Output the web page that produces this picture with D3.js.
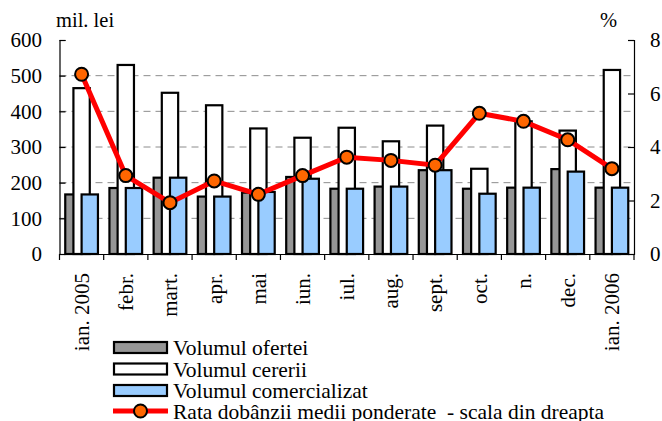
<!DOCTYPE html>
<html>
<head>
<meta charset="utf-8">
<title>Volumul ofertei si cererii</title>
<script src="https://d3js.org/d3.v7.min.js"></script>
<style>
  body { margin: 0; background: #fff; }
  svg text { font-family: 'Liberation Serif', 'Tinos', 'DejaVu Serif', 'Times New Roman', serif; fill: #000; }
</style>
</head>
<body>
<svg id="chart" width="662" height="421"></svg>
<script>
// luni
var months = ["ian. 2005", "febr.", "mart.", "apr.", "mai", "iun.", "iul.",
              "aug.", "sept.", "oct.", "n.", "dec.", "ian. 2006"];
// mil. lei
var oferta = [167, 185, 214, 161, 172, 216, 183, 189, 235, 183, 186, 238, 186];
var cerere = [465, 530, 452, 417, 352, 326, 354, 316, 360, 239, 372, 346, 516];
var comercializat = [167, 185, 214, 161, 174, 211, 183, 189, 235, 169, 186, 231, 186];
// %
var rata = [6.72, 2.93, 1.92, 2.73, 2.23, 2.93, 3.62, 3.50, 3.32, 5.26, 4.96, 4.27, 3.19];

var leftTicks = [0, 100, 200, 300, 400, 500, 600];
var rightTicks = [0, 2, 4, 6, 8];

var svg = d3.select("#chart");
var x0 = 59.5, x1 = 634, yTop = 40, yBot = 254;
var fs = "20.5px";

var x = d3.scaleBand().domain(months).range([x0, x1]).padding(0);
var yL = d3.scaleLinear().domain([0, 600]).range([yBot, yTop]);
var yR = d3.scaleLinear().domain([0, 8]).range([yBot, yTop]);

// grid
svg.append("g").selectAll("line")
    .data(leftTicks.filter(function(d) { return d > 0 && d < 600; }))
    .enter().append("line")
    .attr("x1", x0).attr("x2", x1)
    .attr("y1", function(d) { return yL(d); })
    .attr("y2", function(d) { return yL(d); })
    .attr("stroke", "#8c8c8c").attr("stroke-width", 1)
    .attr("stroke-dasharray", "7,5");

// bars
var w = x.bandwidth() * 0.37;
var series = [
  { values: oferta, fill: "#969696", off: 0 },
  { values: cerere, fill: "#ffffff", off: 0.5 },
  { values: comercializat, fill: "#99ccff", off: 1 }
];
series.forEach(function(s) {
  svg.append("g").selectAll("rect")
      .data(s.values)
      .enter().append("rect")
      .attr("x", function(d, i) { return x(months[i]) + x.bandwidth() / 2 - w + s.off * w; })
      .attr("y", function(d) { return yL(d); })
      .attr("width", w)
      .attr("height", function(d) { return yBot - yL(d); })
      .attr("fill", s.fill)
      .attr("stroke", "#000").attr("stroke-width", 2.2);
});

// axes
var leftAxis = d3.axisRight(yL).tickValues(leftTicks).tickSize(6).tickFormat("");
svg.append("g").attr("transform", "translate(" + x0 + ",0)").call(leftAxis);
var rightAxis = d3.axisLeft(yR).tickValues(rightTicks).tickSize(6).tickFormat("");
svg.append("g").attr("transform", "translate(" + x1 + ",0)").call(rightAxis);
var bottomAxis = d3.axisBottom(x).tickSize(0).tickFormat("");
svg.append("g").attr("transform", "translate(0," + yBot + ")").call(bottomAxis);
svg.selectAll(".domain").attr("stroke", "#000").attr("stroke-width", 1.2);
svg.selectAll(".tick line").attr("stroke", "#000").attr("stroke-width", 1.2);

// x ticks at band boundaries
svg.append("g").selectAll("line")
    .data(months.concat(["end"]))
    .enter().append("line")
    .attr("x1", function(d, i) { return x0 + i * x.bandwidth(); })
    .attr("x2", function(d, i) { return x0 + i * x.bandwidth(); })
    .attr("y1", yBot).attr("y2", yBot + 6)
    .attr("stroke", "#000").attr("stroke-width", 1.2);

// tick labels
svg.append("g").selectAll("text")
    .data(leftTicks).enter().append("text")
    .attr("x", 42).attr("y", function(d) { return yL(d); })
    .attr("dy", "0.35em").attr("text-anchor", "end")
    .style("font-size", "21px")
    .text(function(d) { return d; });
svg.append("g").selectAll("text")
    .data(rightTicks).enter().append("text")
    .attr("x", 650).attr("y", function(d) { return yR(d); })
    .attr("dy", "0.35em")
    .style("font-size", "21px")
    .text(function(d) { return d; });
svg.append("g").selectAll("text")
    .data(months).enter().append("text")
    .attr("transform", function(d) {
      return "translate(" + (x(d) + x.bandwidth() / 2) + ",273) rotate(-90)";
    })
    .attr("dy", "0.35em").attr("text-anchor", "end")
    .style("font-size", "21px")
    .text(function(d) { return d; });

svg.append("text").attr("x", 56).attr("y", 27).style("font-size", fs).text("mil. lei");
svg.append("text").attr("x", 600).attr("y", 27).style("font-size", fs).text("%");

// rate line
var line = d3.line()
    .x(function(d, i) { return x(months[i]) + x.bandwidth() / 2; })
    .y(function(d) { return yR(d); });
svg.append("path").datum(rata)
    .attr("d", line).attr("fill", "none")
    .attr("stroke", "#ff0000").attr("stroke-width", 5);
svg.append("g").selectAll("circle")
    .data(rata).enter().append("circle")
    .attr("cx", function(d, i) { return x(months[i]) + x.bandwidth() / 2; })
    .attr("cy", function(d) { return yR(d); })
    .attr("r", 6.5)
    .attr("fill", "#ff6600").attr("stroke", "#000").attr("stroke-width", 2);

// legend
var legend = [
  { label: "Volumul ofertei", fill: "#969696" },
  { label: "Volumul cererii", fill: "#ffffff" },
  { label: "Volumul comercializat", fill: "#99ccff" },
  { label: "Rata dobânzii medii ponderate  - scala din dreapta", line: true }
];
var lg = svg.append("g");
legend.forEach(function(d, i) {
  var cy = 347.5 + i * 21.5;
  if (d.line) {
    cy = 411;
    lg.append("line").attr("x1", 113).attr("x2", 168).attr("y1", cy).attr("y2", cy)
      .attr("stroke", "#ff0000").attr("stroke-width", 5);
    lg.append("circle").attr("cx", 140.5).attr("cy", cy).attr("r", 6.5)
      .attr("fill", "#ff6600").attr("stroke", "#000").attr("stroke-width", 2);
  } else {
    lg.append("rect").attr("x", 114).attr("y", cy - 5.5).attr("width", 53).attr("height", 11)
      .attr("fill", d.fill).attr("stroke", "#000").attr("stroke-width", 2.2);
  }
  lg.append("text").attr("x", 173).attr("y", cy + 7.5)
    .style("font-size", "21.5px").style("white-space", "pre")
    .text(d.label);
});
</script>
</body>
</html>
